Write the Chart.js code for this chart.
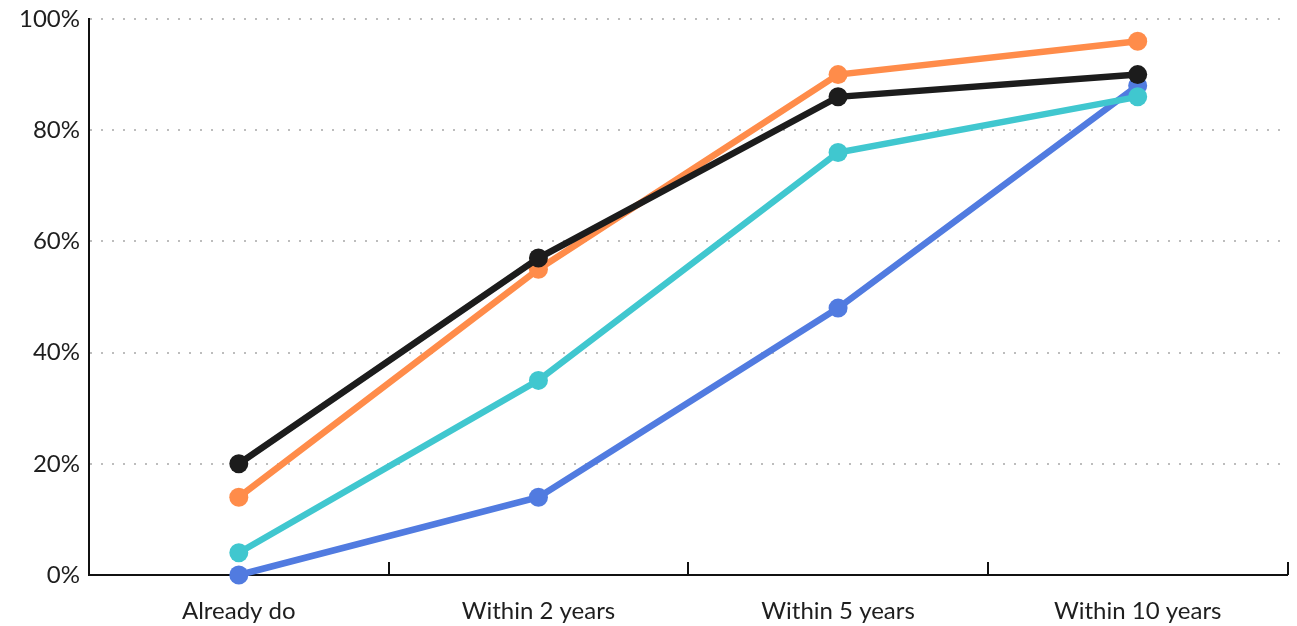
<!DOCTYPE html>
<html>
<head>
<meta charset="utf-8">
<script src="https://cdn.jsdelivr.net/npm/chart.js@4/dist/chart.umd.min.js"></script>
<style>
  html, body { margin: 0; padding: 0; background: #fff; }
  #wrap { width: 1297px; height: 626px; position: relative; }
</style>
</head>
<body>
<div id="wrap"><canvas id="c"></canvas></div>
<script>
// Timeline categories along the x axis
const categories = ['Already do', 'Within 2 years', 'Within 5 years', 'Within 10 years'];

// Share of respondents (%) per group
const blackSeries  = [20, 57, 86, 90];
const orangeSeries = [14, 55, 90, 96];
const cyanSeries   = [4, 35, 76, 86];
const blueSeries   = [0, 14, 48, 88];

// Y axis tick values
const yTicks = [0, 20, 40, 60, 80, 100];

const FONT = '"Source Sans Pro", Lato, sans-serif';

function lineSet(data, color) {
  return {
    data: data,
    borderColor: color,
    backgroundColor: color,
    borderWidth: 6.5,
    pointRadius: 9.5,
    pointHoverRadius: 9.5,
    pointBorderWidth: 0,
    tension: 0,
    clip: false
  };
}

// Short inward tick marks at category boundaries on the x axis
const boundaryTicks = {
  id: 'boundaryTicks',
  afterDatasetsDraw(chart) {
    const x = chart.scales.x;
    const ctx = chart.ctx;
    const n = categories.length;
    const step = (x.right - x.left) / n;
    ctx.save();
    ctx.strokeStyle = '#111';
    ctx.lineWidth = 2;
    for (let i = 1; i <= n; i++) {
      const px = Math.round(x.left + step * i);
      ctx.beginPath();
      ctx.moveTo(px, x.top);
      ctx.lineTo(px, x.top - 13);
      ctx.stroke();
    }
    ctx.restore();
  }
};

new Chart(document.getElementById('c'), {
  type: 'line',
  data: {
    labels: categories,
    datasets: [
      lineSet(blackSeries, '#1c1c1c'),
      lineSet(orangeSeries, '#ff8c4a'),
      lineSet(cyanSeries, '#40c7cf'),
      lineSet(blueSeries, '#517be0')
    ]
  },
  options: {
    responsive: true,
    maintainAspectRatio: false,
    animation: false,
    layout: { padding: { top: 0, right: 9, left: 0, bottom: 0 } },
    plugins: { legend: { display: false }, tooltip: { enabled: false } },
    scales: {
      x: {
        offset: true,
        grid: { display: false, drawTicks: false },
        border: { display: true, color: '#111', width: 2 },
        ticks: {
          color: '#1e1e1e',
          font: { family: FONT, size: 24 },
          padding: 22,
          maxRotation: 0
        },
        afterFit(s) { s.height = 51; }
      },
      y: {
        min: 0,
        max: 100,
        afterBuildTicks(s) { s.ticks = yTicks.map(v => ({ value: v })); },
        grid: {
          color: '#bdbdbd',
          lineWidth: 2,
          drawTicks: false,
          tickLength: 0
        },
        border: { display: true, color: '#111', width: 2, dash: [2, 9] },
        ticks: {
          color: '#1e1e1e',
          font: { family: FONT, size: 24 },
          padding: 9,
          callback: v => v + '%'
        },
        afterFit(s) { s.width = 89; s.paddingTop = 19; s.paddingBottom = 0; }
      }
    }
  },
  plugins: [boundaryTicks]
});
</script>
</body>
</html>
